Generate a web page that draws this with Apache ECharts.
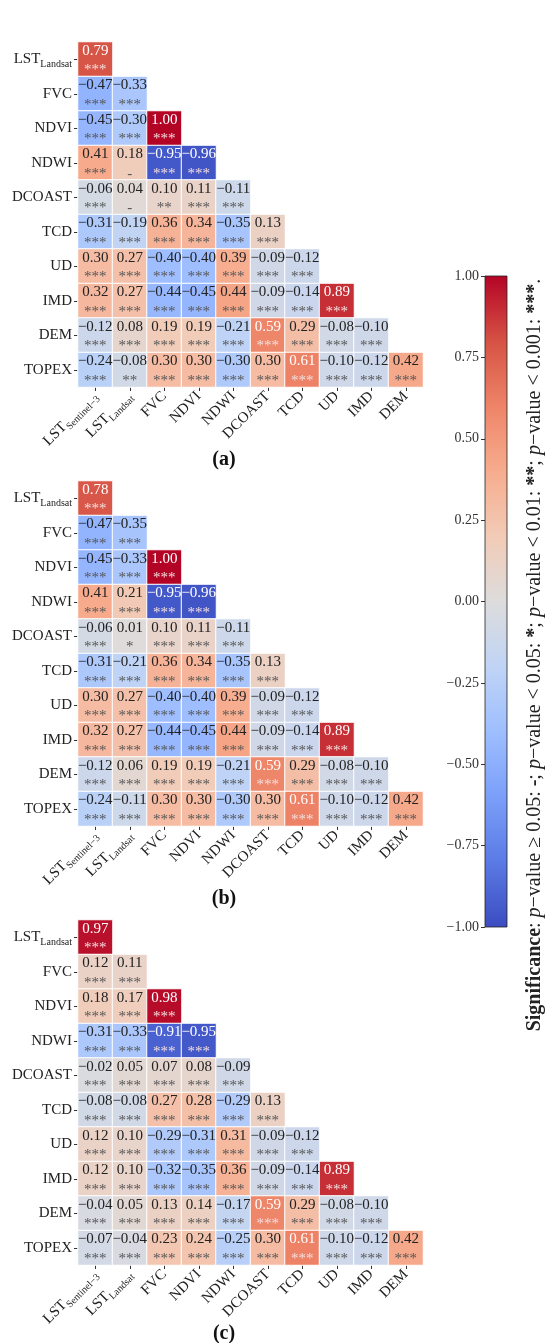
<!DOCTYPE html>
<html>
<head>
<meta charset="utf-8">
<script src="https://cdn.jsdelivr.net/npm/echarts@6/dist/echarts.min.js"></script>
<style>html,body{margin:0;background:#fff}#main{width:550px;height:1343px}</style>
</head>
<body>
<div id="main"></div>
<script>
var xCats = ['LST_Sentinel−3', 'LST_Landsat', 'FVC', 'NDVI', 'NDWI', 'DCOAST', 'TCD', 'UD', 'IMD', 'DEM'];
var yCats = ['LST_Landsat', 'FVC', 'NDVI', 'NDWI', 'DCOAST', 'TCD', 'UD', 'IMD', 'DEM', 'TOPEX'];
var cbTicks = [-1, -0.75, -0.5, -0.25, 0, 0.25, 0.5, 0.75, 1];
var panelNames = ['(a)', '(b)', '(c)'];

// lower triangle, one row per yCats entry
var corrA = [
  [0.79],
  [-0.47, -0.33],
  [-0.45, -0.30, 1.00],
  [0.41, 0.18, -0.95, -0.96],
  [-0.06, 0.04, 0.10, 0.11, -0.11],
  [-0.31, -0.19, 0.36, 0.34, -0.35, 0.13],
  [0.30, 0.27, -0.40, -0.40, 0.39, -0.09, -0.12],
  [0.32, 0.27, -0.44, -0.45, 0.44, -0.09, -0.14, 0.89],
  [-0.12, 0.08, 0.19, 0.19, -0.21, 0.59, 0.29, -0.08, -0.10],
  [-0.24, -0.08, 0.30, 0.30, -0.30, 0.30, 0.61, -0.10, -0.12, 0.42]
];
var sigA = [
  ['***'],
  ['***', '***'],
  ['***', '***', '***'],
  ['***', '-', '***', '***'],
  ['***', '-', '**', '***', '***'],
  ['***', '***', '***', '***', '***', '***'],
  ['***', '***', '***', '***', '***', '***', '***'],
  ['***', '***', '***', '***', '***', '***', '***', '***'],
  ['***', '***', '***', '***', '***', '***', '***', '***', '***'],
  ['***', '**', '***', '***', '***', '***', '***', '***', '***', '***']
];
var corrB = [
  [0.78],
  [-0.47, -0.35],
  [-0.45, -0.33, 1.00],
  [0.41, 0.21, -0.95, -0.96],
  [-0.06, 0.01, 0.10, 0.11, -0.11],
  [-0.31, -0.21, 0.36, 0.34, -0.35, 0.13],
  [0.30, 0.27, -0.40, -0.40, 0.39, -0.09, -0.12],
  [0.32, 0.27, -0.44, -0.45, 0.44, -0.09, -0.14, 0.89],
  [-0.12, 0.06, 0.19, 0.19, -0.21, 0.59, 0.29, -0.08, -0.10],
  [-0.24, -0.11, 0.30, 0.30, -0.30, 0.30, 0.61, -0.10, -0.12, 0.42]
];
var sigB = [
  ['***'],
  ['***', '***'],
  ['***', '***', '***'],
  ['***', '***', '***', '***'],
  ['***', '*', '***', '***', '***'],
  ['***', '***', '***', '***', '***', '***'],
  ['***', '***', '***', '***', '***', '***', '***'],
  ['***', '***', '***', '***', '***', '***', '***', '***'],
  ['***', '***', '***', '***', '***', '***', '***', '***', '***'],
  ['***', '***', '***', '***', '***', '***', '***', '***', '***', '***']
];
var corrC = [
  [0.97],
  [0.12, 0.11],
  [0.18, 0.17, 0.98],
  [-0.31, -0.33, -0.91, -0.95],
  [-0.02, 0.05, 0.07, 0.08, -0.09],
  [-0.08, -0.08, 0.27, 0.28, -0.29, 0.13],
  [0.12, 0.10, -0.29, -0.31, 0.31, -0.09, -0.12],
  [0.12, 0.10, -0.32, -0.35, 0.36, -0.09, -0.14, 0.89],
  [-0.04, 0.05, 0.13, 0.14, -0.17, 0.59, 0.29, -0.08, -0.10],
  [-0.07, -0.04, 0.23, 0.24, -0.25, 0.30, 0.61, -0.10, -0.12, 0.42]
];
var sigC = sigB.map(function (r) { return r.map(function () { return '***'; }); });

var coolwarm = ['#3b4cc0', '#5b7ae5', '#7b9ff9', '#9ebeff', '#c0d4f5', '#dddcdc',
                '#f2cbb7', '#f7ac8e', '#ee8468', '#d65244', '#b40426'];
var serif = 'Liberation Serif';

var myChart = echarts.init(document.getElementById('main'));

function cells(corr, sig) {
  var out = [];
  corr.forEach(function (row, i) {
    row.forEach(function (v, j) { out.push([j, i, v, sig[i][j]]); });
  });
  return out;
}
function fmtNum(v) {
  return (v < 0 ? '−' : '') + Math.abs(v).toFixed(2);
}
function catLabel(v) {
  return v.replace(/^LST_(.*)$/, 'LST{sub|$1}');
}

var tops = [42, 481, 920];
var grids = [], xAxes = [], yAxes = [], series = [], graphics = [];
var sets = [[corrA, sigA], [corrB, sigB], [corrC, sigC]];

tops.forEach(function (t, k) {
  grids.push({ left: 78, top: t, width: 345, height: 345 });
  xAxes.push({
    type: 'category', gridIndex: k, data: xCats,
    axisLine: { show: false },
    axisTick: { show: true, alignWithLabel: true, length: 4, lineStyle: { color: '#333' } },
    axisLabel: {
      rotate: 45, margin: 7, fontFamily: serif, fontSize: 15, color: '#222',
      lineHeight: 20, formatter: catLabel,
      rich: { sub: { fontFamily: serif, fontSize: 10, color: '#222', verticalAlign: 'bottom' } }
    },
    splitLine: { show: false }
  });
  yAxes.push({
    type: 'category', gridIndex: k, data: yCats, inverse: true,
    axisLine: { show: false },
    axisTick: { show: true, alignWithLabel: true, length: 4, lineStyle: { color: '#333' } },
    axisLabel: {
      margin: 6, fontFamily: serif, fontSize: 15, color: '#222',
      lineHeight: 20, formatter: catLabel,
      rich: { sub: { fontFamily: serif, fontSize: 10, color: '#222', verticalAlign: 'bottom' } }
    },
    splitLine: { show: false }
  });
  series.push({
    type: 'heatmap', xAxisIndex: k, yAxisIndex: k,
    data: cells(sets[k][0], sets[k][1]),
    itemStyle: { borderColor: '#fff', borderWidth: 1 },
    label: {
      show: true,
      formatter: function (p) {
        var v = p.value[2], s = p.value[3];
        var w = Math.abs(v) > 0.5 ? 'w' : 'd';
        return '{v' + w + '|' + fmtNum(v) + '}\n{s' + w + '|' + s + '}';
      },
      rich: {
        vd: { fontFamily: serif, fontSize: 15, color: '#222', lineHeight: 17 },
        vw: { fontFamily: serif, fontSize: 15, color: '#fff', lineHeight: 17 },
        sd: { fontFamily: serif, fontSize: 15, color: '#555', lineHeight: 17, padding: [5, 0, 0, 0] },
        sw: { fontFamily: serif, fontSize: 15, color: '#f3dede', lineHeight: 17, padding: [5, 0, 0, 0] }
      }
    },
    emphasis: { disabled: true }
  });
  graphics.push({
    type: 'text', x: 224, y: [460, 899, 1334][k],
    style: { text: panelNames[k], font: 'bold 20px ' + serif, fill: '#111', align: 'center', verticalAlign: 'middle' }
  });
});

// colorbar
grids.push({
  left: 485, top: 276, width: 22, height: 651, show: true,
  borderColor: '#222', borderWidth: 0.8,
  backgroundColor: {
    type: 'linear', x: 0, y: 0, x2: 0, y2: 1,
    colorStops: coolwarm.slice().reverse().map(function (c, i) { return { offset: i / 10, color: c }; })
  }
});
xAxes.push({ type: 'value', gridIndex: 3, show: false, min: 0, max: 1 });
yAxes.push({
  type: 'value', gridIndex: 3, position: 'left', min: -1, max: 1, interval: 0.25,
  axisLine: { show: false },
  axisTick: { show: true, length: 4, lineStyle: { color: '#333' } },
  axisLabel: {
    margin: 6, fontFamily: serif, fontSize: 14, color: '#333',
    formatter: function (v) { return cbTicks.indexOf(v) >= 0 ? fmtNum(v) : ''; }
  },
  splitLine: { show: false }
});

graphics.push({
  type: 'text', x: 535, y: 655, rotation: Math.PI / 2,
  style: {
    text: '{b|Significance}: {i|p}−value ≥ 0.05: {b|-}; {i|p}−value < 0.05: {b|*}; {i|p}−value < 0.01: {b|**}; {i|p}−value < 0.001: {b|***}.',
    font: '20px ' + serif, fill: '#222', align: 'center', verticalAlign: 'middle',
    rich: {
      b: { fontFamily: serif, fontSize: 20, fontWeight: 'bold', fill: '#222' },
      i: { fontFamily: serif, fontSize: 20, fontStyle: 'italic', fill: '#222' }
    }
  }
});

var option = {
  animation: false,
  backgroundColor: '#fff',
  grid: grids,
  xAxis: xAxes,
  yAxis: yAxes,
  visualMap: {
    show: false, type: 'continuous', min: -1, max: 1, dimension: 2,
    seriesIndex: [0, 1, 2], inRange: { color: coolwarm }
  },
  series: series,
  graphic: graphics
};
myChart.setOption(option);
</script>
</body>
</html>
